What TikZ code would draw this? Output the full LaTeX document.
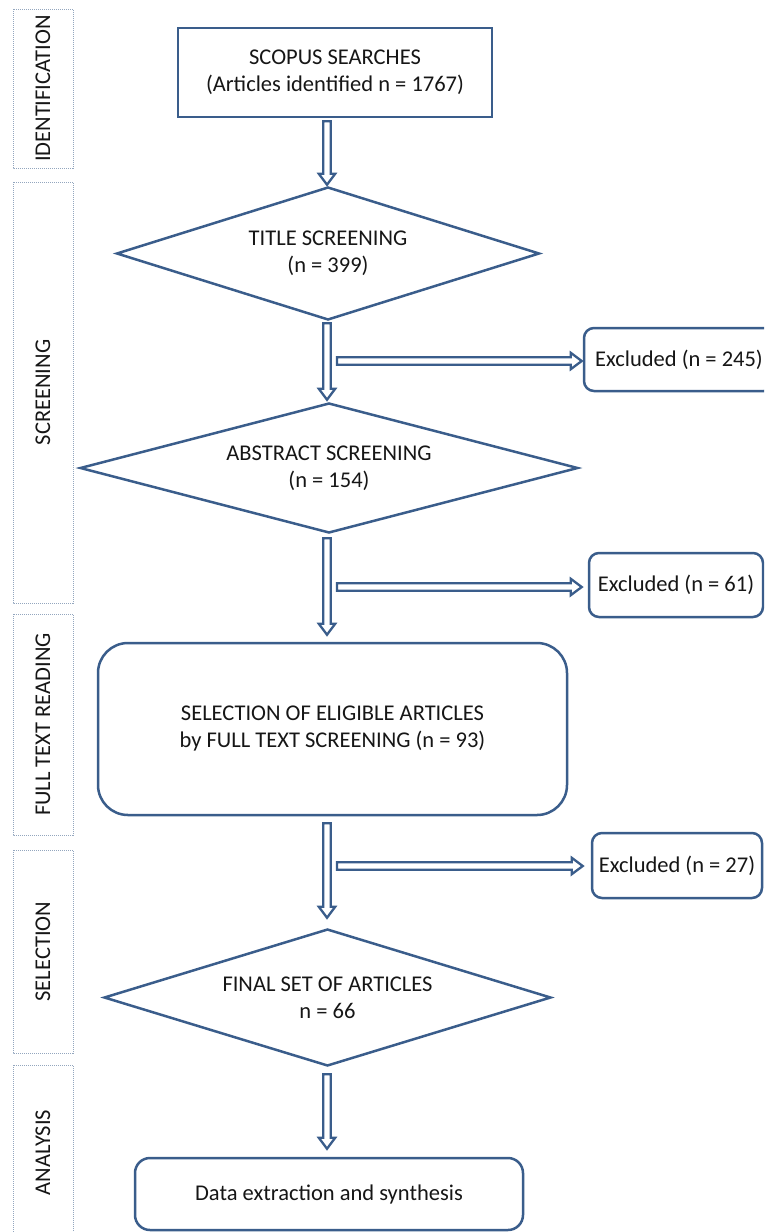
\documentclass[tikz,border=0pt]{standalone}
\usepackage{fontspec}
\setmainfont{Carlito}
\usetikzlibrary{shapes.geometric,calc}
\definecolor{edgeblue}{HTML}{3A5D8B}
\definecolor{phaseline}{HTML}{93A6BE}
\definecolor{ink}{HTML}{161616}

\tikzset{
  every node/.style={font=\fontsize{22.5}{27}\selectfont, text=ink, align=center},
  % dotted stage labels on the left margin
  phase/.style={draw=phaseline, line width=1pt, dash pattern=on 1pt off 1pt,
    minimum height=60pt, rotate=90, inner sep=0pt},
  stepbox/.style={draw=edgeblue, line width=2.5pt, fill=white, inner sep=0pt},
  roundbox/.style={stepbox, rounded corners=#1},
  decision/.style={draw=edgeblue, line width=2.5pt, shape=diamond, inner sep=0pt, aspect=3.5},
  % hollow block arrow between two points
  blockarrow/.style={draw=edgeblue, line width=2.3pt, fill=white, line join=miter,
    to path={let \p1=(\tikztostart), \p2=(\tikztotarget),
      \n1={atan2(\y2-\y1,\x2-\x1)}, \n2={veclen(\x2-\x1,\y2-\y1)} in
      (\p1) ++(\n1+90:3.8pt) -- ++(\n1:\n2-11pt) -- ++(\n1+90:4.4pt) -- (\p2)
      -- ($(\p2)+(\n1+180:11pt)+(\n1-90:8.2pt)$) -- ++(\n1+90:4.4pt)
      -- ++(\n1+180:\n2-11pt) -- cycle}}
}

\begin{document}
\begin{tikzpicture}[x=1pt,y=-1pt]
\useasboundingbox (0,0) rectangle (764,1232);
\clip (0,0) rectangle (764,1232);

% stage labels
\node[phase, minimum width=159pt] (pid) at (43,88.5) {IDENTIFICATION};
\node[phase, minimum width=421pt] (pscr) at (43,392.5) {SCREENING};
\node[phase, minimum width=221pt] (pfull) at (43,724.5) {FULL TEXT READING};
\node[phase, minimum width=203pt] (psel) at (43,951.5) {SELECTION};
\node[phase, minimum width=175pt] (pana) at (43,1152.5) {ANALYSIS};

% main flow
\coordinate (spine) at (327,0);
\node[stepbox, minimum width=314pt, minimum height=89pt] (scopus) at (335,72.5)
  {SCOPUS SEARCHES\\(Articles identified n = 1767)};
\node[decision, minimum width=423pt, minimum height=133pt] (title) at (328,253.5)
  {TITLE SCREENING\\(n = 399)};
\node[decision, minimum width=498pt, minimum height=130pt] (abstract) at (329,468)
  {ABSTRACT SCREENING\\(n = 154)};
\node[roundbox=30pt, minimum width=469pt, minimum height=172pt] (eligible) at (332.5,729)
  {SELECTION OF ELIGIBLE ARTICLES\\by FULL TEXT SCREENING (n = 93)};
\node[decision, minimum width=447pt, minimum height=137pt] (final) at (327.5,997.5)
  {FINAL SET OF ARTICLES\\n = 66};
\node[roundbox=15pt, minimum width=388pt, minimum height=72pt] (data) at (329,1194)
  {Data extraction and synthesis};

% exclusion boxes
\node[roundbox=10pt, minimum width=190pt, minimum height=63pt] (ex1) at (679,359.5)
  {Excluded (n = 245)};
\node[roundbox=10pt, minimum width=174pt, minimum height=64pt] (ex2) at (676,585)
  {Excluded (n = 61)};
\node[roundbox=10pt, minimum width=170pt, minimum height=65pt] (ex3) at (677,865.5)
  {Excluded (n = 27)};

% branch origins beside the vertical arrows
\coordinate (br1) at (337,361);
\coordinate (br2) at (337,587);
\coordinate (br3) at (337,866);

% vertical arrows
\path[blockarrow] ([yshift=-3pt]spine |- scopus.south) to ([yshift=1pt]spine |- title.north);
\path[blockarrow] ([yshift=-2pt]spine |- title.south) to ([yshift=2pt]spine |- abstract.north);
\path[blockarrow] ([yshift=-4pt]spine |- abstract.south) to ([yshift=7pt]spine |- eligible.north);
\path[blockarrow] ([yshift=-7pt]spine |- eligible.south) to ([yshift=10pt]spine |- final.north);
\path[blockarrow] ([yshift=-7pt]spine |- final.south) to ([yshift=8pt]spine |- data.north);

% exclusion arrows
\path[blockarrow] (br1) to ([xshift=-1pt]ex1.west |- br1);
\path[blockarrow] (br2) to ([xshift=-6pt]ex2.west |- br2);
\path[blockarrow] (br3) to ([xshift=-8pt]ex3.west |- br3);
\end{tikzpicture}
\end{document}
